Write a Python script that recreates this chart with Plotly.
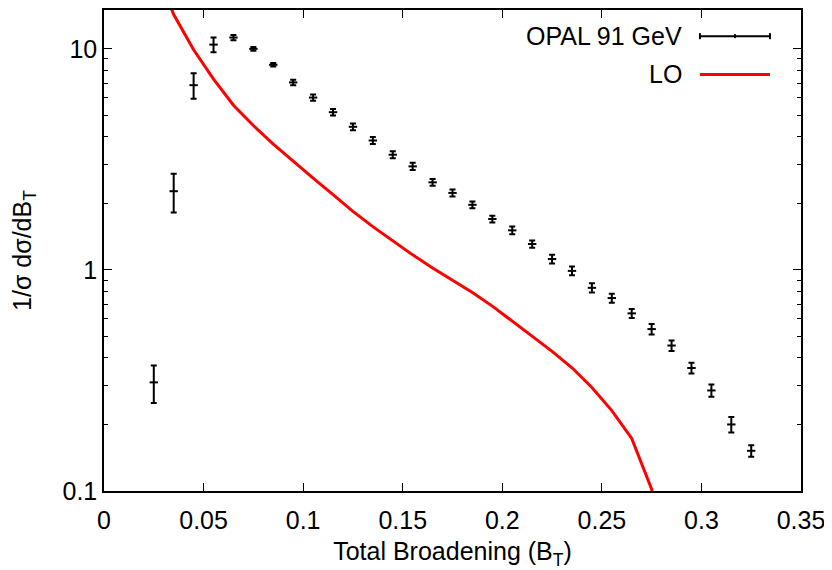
import plotly.graph_objects as go

# OPAL 91 GeV data (bin centres, values, errors)
bt = [0.025, 0.035, 0.045, 0.055, 0.065, 0.075, 0.085, 0.095, 0.105, 0.115,
      0.125, 0.135, 0.145, 0.155, 0.165, 0.175, 0.185, 0.195, 0.205, 0.215,
      0.225, 0.235, 0.245, 0.255, 0.265, 0.275, 0.285, 0.295, 0.305, 0.315, 0.325]
opal = [0.31, 2.27, 6.85, 10.45, 11.25, 10.0, 8.47, 7.05, 6.02, 5.17,
        4.44, 3.85, 3.32, 2.94, 2.49, 2.23, 1.97, 1.70, 1.51, 1.31,
        1.12, 0.99, 0.83, 0.746, 0.636, 0.54, 0.455, 0.36, 0.285, 0.20, 0.152]
opal_err = [0.06, 0.45, 0.9, 0.8, 0.3, 0.2, 0.15, 0.2, 0.2, 0.18,
            0.16, 0.14, 0.12, 0.11, 0.09, 0.08, 0.07, 0.06, 0.06, 0.05,
            0.05, 0.045, 0.04, 0.035, 0.03, 0.03, 0.025, 0.02, 0.018, 0.016, 0.009]

# LO prediction
lo_x = [0.025, 0.035, 0.045, 0.055, 0.065, 0.075, 0.085, 0.095, 0.105, 0.115,
        0.125, 0.135, 0.145, 0.155, 0.165, 0.175, 0.185, 0.195, 0.205, 0.215,
        0.225, 0.235, 0.245, 0.255, 0.265, 0.275, 0.285]
lo_y = [24.0, 14.3, 9.9, 7.3, 5.56, 4.5, 3.71, 3.1, 2.6, 2.19,
        1.84, 1.57, 1.35, 1.17, 1.02, 0.896, 0.79, 0.686, 0.588, 0.50,
        0.428, 0.361, 0.294, 0.231, 0.173, 0.102, 0.04]

xticks = [0, 0.05, 0.1, 0.15, 0.2, 0.25, 0.3, 0.35]
xticktext = ["0", "0.05", "0.1", "0.15", "0.2", "0.25", "0.3", "0.35"]
yticks = [0.1, 1, 10]
yticktext = ["0.1", "1", "10"]
yminor = [0.2, 0.3, 0.4, 0.5, 0.6, 0.7, 0.8, 0.9, 2, 3, 4, 5, 6, 7, 8, 9]

FONT = "Liberation Sans, Arial, sans-serif"
FS = 25

fig = go.Figure()
fig.add_trace(go.Scatter(
    x=lo_x, y=lo_y, mode="lines", line=dict(color="#ff0000", width=3),
    showlegend=False, cliponaxis=True))
fig.add_trace(go.Scatter(
    x=bt, y=opal, mode="markers",
    marker=dict(symbol="line-ew", size=6, color="black",
                line=dict(color="black", width=2)),
    error_y=dict(type="data", array=opal_err, color="black", thickness=2, width=3),
    showlegend=False))

# gnuplot-style key: text on the left, sample on the right
key_x0 = 0.855
key_x1 = 0.9555
key_text_x = 0.832
rows = [0.9456, 0.866]
fig.add_annotation(x=key_text_x, y=rows[0], xref="paper", yref="paper",
                   text="OPAL 91 GeV", showarrow=False, xanchor="right",
                   yanchor="middle", font=dict(family=FONT, size=FS, color="black"))
fig.add_annotation(x=key_text_x, y=rows[1], xref="paper", yref="paper",
                   text="LO", showarrow=False, xanchor="right",
                   yanchor="middle", font=dict(family=FONT, size=FS, color="black"))
fig.add_shape(type="line", xref="paper", yref="paper", x0=key_x0, x1=key_x1,
              y0=rows[0], y1=rows[0], line=dict(color="black", width=2))
for xc, h in [(key_x0, 3), (key_x1, 3), ((key_x0 + key_x1) / 2, 2)]:
    fig.add_shape(type="line", xref="paper", yref="paper", ysizemode="pixel",
                  yanchor=rows[0], x0=xc, x1=xc, y0=-h, y1=h,
                  line=dict(color="black", width=2))
fig.add_shape(type="line", xref="paper", yref="paper", x0=key_x0, x1=key_x1,
              y0=rows[1], y1=rows[1], line=dict(color="#ff0000", width=3))

fig.update_xaxes(
    range=[0, 0.35], tickvals=xticks, ticktext=xticktext,
    ticks="inside", ticklen=8, tickwidth=1, tickcolor="black",
    showline=True, linecolor="black", linewidth=1.5, mirror="ticks",
    showgrid=False, zeroline=False, ticklabelstandoff=6,
    ticklabeloverflow="allow",
    tickfont=dict(family=FONT, size=FS, color="black"),
    title=dict(text="Total Broadening (B<sub>T</sub>)",
               font=dict(family=FONT, size=FS, color="black"), standoff=10))
fig.update_yaxes(
    type="log", range=[-1, 1.1757], tickvals=yticks, ticktext=yticktext,
    ticksuffix=" ",
    ticks="inside", ticklen=8, tickwidth=1, tickcolor="black",
    minor=dict(tickvals=yminor, ticks="inside", ticklen=4, tickcolor="black"),
    showline=True, linecolor="black", linewidth=1.5, mirror="ticks",
    showgrid=False, zeroline=False,
    tickfont=dict(family=FONT, size=FS, color="black"),
    title=dict(text="1/σ dσ/dB<sub>T</sub>",
               font=dict(family=FONT, size=FS, color="black"), standoff=25))

# page body has an 8px margin, so the figure is offset by it
fig.update_layout(
    width=824, height=562,
    margin=dict(l=96, r=31, t=0, b=79),
    plot_bgcolor="white", paper_bgcolor="white",
    showlegend=False)

fig.write_html("out.html")
